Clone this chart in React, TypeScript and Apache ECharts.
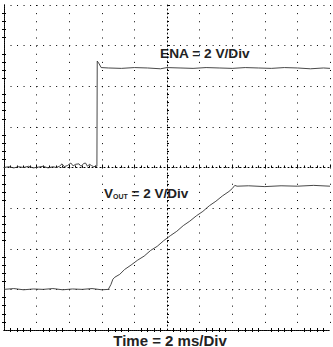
import React, { useEffect, useRef } from "react";
import * as echarts from "echarts";

// Time in divisions (2 ms/div), voltage in divisions (2 V/div), grid 10 x 8 divisions
const enaTime = [0, 0.15, 0.3, 0.45, 0.6, 0.75, 0.9, 1.05, 1.2, 1.35, 1.5, 1.6, 1.7, 1.78, 1.85, 1.95, 2.05, 2.12, 2.2, 2.3, 2.36, 2.45, 2.5, 2.56, 2.62, 2.68, 2.75, 2.82, 2.85, 2.86, 2.92, 2.98, 3.2, 3.6, 4.0, 4.4, 4.8, 5.0, 5.4, 5.8, 6.2, 6.6, 7.0, 7.4, 7.8, 8.2, 8.6, 9.0, 9.4, 9.8, 10];
const enaDiv = [4.0, 4.02, 3.99, 4.02, 4.0, 4.03, 3.99, 4.01, 4.03, 3.99, 4.02, 4.0, 4.03, 4.09, 4.02, 4.05, 4.11, 4.04, 4.08, 4.09, 4.03, 4.1, 4.11, 4.03, 4.08, 4.05, 4.02, 4.03, 4.03, 6.62, 6.55, 6.46, 6.45, 6.44, 6.46, 6.45, 6.43, 6.46, 6.45, 6.44, 6.46, 6.45, 6.44, 6.46, 6.45, 6.44, 6.46, 6.45, 6.43, 6.45, 6.44];

const voutTime = [0, 0.3, 0.6, 0.9, 1.2, 1.5, 1.8, 2.1, 2.4, 2.7, 3.0, 3.2, 3.28, 3.34, 3.4, 3.55, 3.7, 3.9, 4.1, 4.3, 4.5, 4.7, 4.9, 5.1, 5.3, 5.5, 5.7, 5.9, 6.1, 6.3, 6.5, 6.7, 6.9, 7.0, 7.08, 7.15, 7.5, 8.0, 8.5, 9.0, 9.5, 10];
const voutDiv = [1.0, 1.02, 0.99, 1.01, 1.0, 1.02, 0.99, 1.01, 1.0, 1.02, 0.99, 1.0, 1.12, 1.25, 1.3, 1.37, 1.49, 1.6, 1.72, 1.82, 1.96, 2.06, 2.2, 2.32, 2.43, 2.57, 2.68, 2.81, 2.92, 3.06, 3.17, 3.3, 3.41, 3.48, 3.56, 3.54, 3.55, 3.53, 3.55, 3.54, 3.56, 3.54];

const xDivisions = 10;
const yDivisions = 8;
const enaLabel = "ENA = 2 V/Div";
const voutLabel = " = 2 V/Div";
const timeLabel = "Time = 2 ms/Div";

const GRID = { left: 4, top: 5, width: 326, height: 325 };

export default function App() {
  const ref = useRef<HTMLDivElement>(null);
  useEffect(() => {
    if (!ref.current) return;
    const chart = echarts.init(ref.current, null, { renderer: "svg" });
    const dx = GRID.width / xDivisions / 5;
    const dy = GRID.height / yDivisions / 5;
    const border = { color: "#000", width: 1, type: [1, 1] };
    const minor = { show: true, splitNumber: 5, length: 2, lineStyle: { color: "#000" } };
    const centerAxis = {
      axisLine: { show: true, lineStyle: { color: "#000", type: [1, 3] } },
      axisTick: { show: true, inside: true, length: 3, lineStyle: { color: "#000" } },
      minorTick: minor,
      axisLabel: { show: false },
      splitLine: { show: false },
    };
    chart.setOption({
      animation: false,
      backgroundColor: "#fff",
      grid: { ...GRID, containLabel: false },
      xAxis: [
        {
          type: "value", min: 0, max: xDivisions, interval: 1, position: "bottom",
          axisLine: { show: true, lineStyle: border },
          axisTick: { show: false, inside: true },
          minorTick: minor,
          axisLabel: { show: false },
          splitLine: { show: true, lineStyle: { color: "#000", width: 1, type: [1, dy - 1] } },
        },
        {
          type: "value", min: 0, max: xDivisions, interval: 1, position: "top",
          axisLine: { show: true, lineStyle: border },
          axisTick: { show: false, inside: true },
          minorTick: minor,
          axisLabel: { show: false },
          splitLine: { show: false },
        },
        {
          type: "value", min: 0, max: xDivisions, interval: 1, position: "bottom", offset: -GRID.height / 2,
          ...centerAxis,
        },
      ],
      yAxis: [
        {
          type: "value", min: 0, max: yDivisions, interval: 1, position: "left",
          axisLine: { show: true, lineStyle: border },
          axisTick: { show: false, inside: true },
          minorTick: minor,
          axisLabel: { show: false },
          splitLine: { show: true, lineStyle: { color: "#000", width: 1, type: [1, dx - 1] } },
        },
        {
          type: "value", min: 0, max: yDivisions, interval: 1, position: "right",
          axisLine: { show: true, lineStyle: border },
          axisTick: { show: false, inside: true },
          minorTick: minor,
          axisLabel: { show: false },
          splitLine: { show: false },
        },
        {
          type: "value", min: 0, max: yDivisions, interval: 1, position: "left", offset: -GRID.width / 2,
          ...centerAxis,
        },
      ],
      series: [
        {
          type: "line", xAxisIndex: 0, yAxisIndex: 0, showSymbol: false, silent: true,
          lineStyle: { color: "#333", width: 0.9 },
          data: enaTime.map((t, i) => [t, enaDiv[i]]),
        },
        {
          type: "line", xAxisIndex: 0, yAxisIndex: 0, showSymbol: false, silent: true,
          lineStyle: { color: "#333", width: 0.9 },
          data: voutTime.map((t, i) => [t, voutDiv[i]]),
        },
      ],
      graphic: [
        {
          type: "text", left: 160, top: 46,
          style: { text: enaLabel, fill: "#222", font: "bold 13.7px 'Liberation Sans', Arial, sans-serif" },
        },
        {
          type: "text", left: 104, top: 186,
          style: {
            text: "{v|V}{s|OUT}{v|" + voutLabel + "}",
            rich: {
              v: { fill: "#222", font: "bold 13.5px 'Liberation Sans', Arial, sans-serif" },
              s: { fill: "#222", font: "bold 7px 'Liberation Sans', Arial, sans-serif", padding: [6, 0, 0, 0] },
            },
          },
        },
        {
          type: "text", x: 170, y: 340,
          style: {
            text: timeLabel, fill: "#222", align: "center", verticalAlign: "middle",
            font: "bold 15px 'Liberation Sans', Arial, sans-serif",
          },
        },
      ],
    });
    return () => chart.dispose();
  }, []);
  return (
    <div
      ref={ref}
      style={{ position: "absolute", left: 0, top: 0, width: 333, height: 347, background: "#fff" }}
    />
  );
}
